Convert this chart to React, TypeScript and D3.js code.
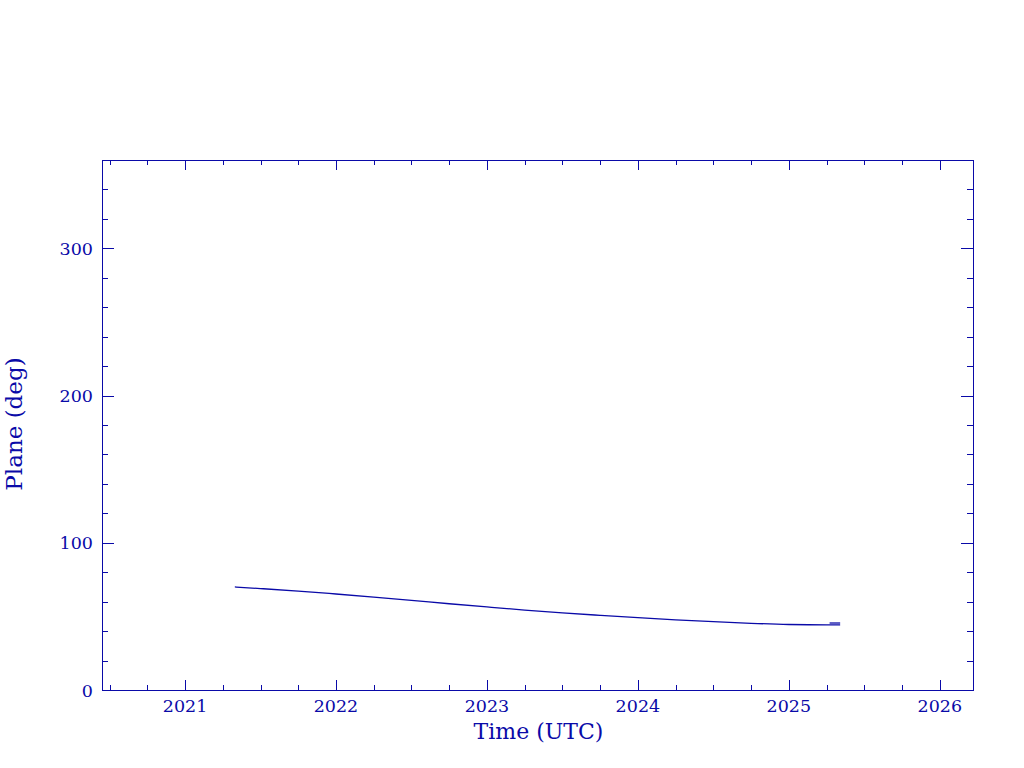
import React, { useEffect, useRef } from 'react';
import * as d3 from 'd3';

// decimal year vs. plane angle (deg)
const years = [2021.33, 2021.5, 2021.75, 2022.0, 2022.25, 2022.5, 2022.75, 2023.0, 2023.25, 2023.5, 2023.75, 2024.0, 2024.25, 2024.5, 2024.75, 2025.0, 2025.25, 2025.34];
const plane = [70.0, 68.9, 67.2, 65.2, 63.1, 60.9, 58.6, 56.4, 54.3, 52.4, 50.7, 49.1, 47.7, 46.4, 45.3, 44.5, 44.2, 44.3];
// short overlapping piece at the end
const tailYears = [2025.27, 2025.34];
const tailPlane = [45.5, 45.5];

const xMajor = [2021, 2022, 2023, 2024, 2025, 2026];
const yMajor = [0, 100, 200, 300];

const blue = '#0a0aa8';
const font = "'DejaVu Serif', serif";

export default function App() {
    const svgRef = useRef<SVGSVGElement>(null);

    useEffect(() => {
        if (!svgRef.current) return;
        const svg = d3.select(svgRef.current);
        svg.selectAll("*").remove();

        const left = 102, right = 973, top = 160, bottom = 690;

        const x = d3.scaleLinear().domain([2020.45, 2026.22]).range([left, right]);
        const y = d3.scaleLinear().domain([0, 360]).range([bottom, top]);

        const g = svg.append("g");

        // frame
        g.append("rect")
            .attr("x", left + 0.5).attr("y", top + 0.5)
            .attr("width", right - left).attr("height", bottom - top)
            .attr("fill", "none").attr("stroke", blue).attr("stroke-width", 1);

        // x ticks (major every year, minor every quarter), bottom and top
        const [x0, x1] = x.domain();
        const xMinor = d3.range(2020.5, 2026.3, 0.25)
            .filter(v => v > x0 && v < x1 && Math.abs(v - Math.round(v)) > 0.01);
        xMinor.forEach(v => {
            const px = Math.round(x(v)) + 0.5;
            g.append("line").attr("x1", px).attr("x2", px).attr("y1", bottom).attr("y2", bottom - 5).attr("stroke", blue);
            g.append("line").attr("x1", px).attr("x2", px).attr("y1", top).attr("y2", top + 5).attr("stroke", blue);
        });
        xMajor.forEach(v => {
            const px = Math.round(x(v)) + 0.5;
            g.append("line").attr("x1", px).attr("x2", px).attr("y1", bottom).attr("y2", bottom - 10).attr("stroke", blue);
            g.append("line").attr("x1", px).attr("x2", px).attr("y1", top).attr("y2", top + 10).attr("stroke", blue);
            g.append("text").attr("x", x(v)).attr("y", bottom + 22)
                .attr("text-anchor", "middle").attr("fill", blue)
                .style("font-family", font).style("font-size", "17.5px")
                .text(String(v));
        });

        // y ticks (major every 100, minor every 20), left and right
        const yMinor = d3.range(20, 360, 20).filter(v => v % 100 !== 0);
        yMinor.forEach(v => {
            const py = Math.round(y(v)) + 0.5;
            g.append("line").attr("x1", left).attr("x2", left + 6).attr("y1", py).attr("y2", py).attr("stroke", blue);
            g.append("line").attr("x1", right).attr("x2", right - 6).attr("y1", py).attr("y2", py).attr("stroke", blue);
        });
        yMajor.forEach(v => {
            const py = Math.round(y(v)) + 0.5;
            g.append("line").attr("x1", left).attr("x2", left + 12).attr("y1", py).attr("y2", py).attr("stroke", blue);
            g.append("line").attr("x1", right).attr("x2", right - 12).attr("y1", py).attr("y2", py).attr("stroke", blue);
            g.append("text").attr("x", left - 9).attr("y", y(v) + 6.5)
                .attr("text-anchor", "end").attr("fill", blue)
                .style("font-family", font).style("font-size", "17.5px")
                .text(String(v));
        });

        // axis titles
        g.append("text").attr("x", (left + right) / 2 + 1).attr("y", 739)
            .attr("text-anchor", "middle").attr("fill", blue)
            .style("font-family", font).style("font-size", "22px")
            .text("Time (UTC)");
        g.append("text")
            .attr("transform", `translate(22,${(top + bottom) / 2 - 1}) rotate(-90)`)
            .attr("text-anchor", "middle").attr("fill", blue)
            .style("font-family", font).style("font-size", "23px")
            .text("Plane (deg)");

        // data lines
        const line = d3.line<[number, number]>()
            .x(d => x(d[0]))
            .y(d => y(d[1]))
            .curve(d3.curveMonotoneX);

        g.append("path")
            .datum(years.map((v, i) => [v, plane[i]] as [number, number]))
            .attr("d", line)
            .attr("fill", "none").attr("stroke", blue).attr("stroke-width", 1.3);

        g.append("path")
            .datum(tailYears.map((v, i) => [v, tailPlane[i]] as [number, number]))
            .attr("d", line)
            .attr("fill", "none").attr("stroke", blue).attr("stroke-width", 1.3);
    }, []);

    return (
        <div style={{ position: 'absolute', left: 0, top: 0, width: 1024, height: 768, background: '#fff' }}>
            <svg ref={svgRef} width={1024} height={768} viewBox="0 0 1024 768" />
        </div>
    );
}
